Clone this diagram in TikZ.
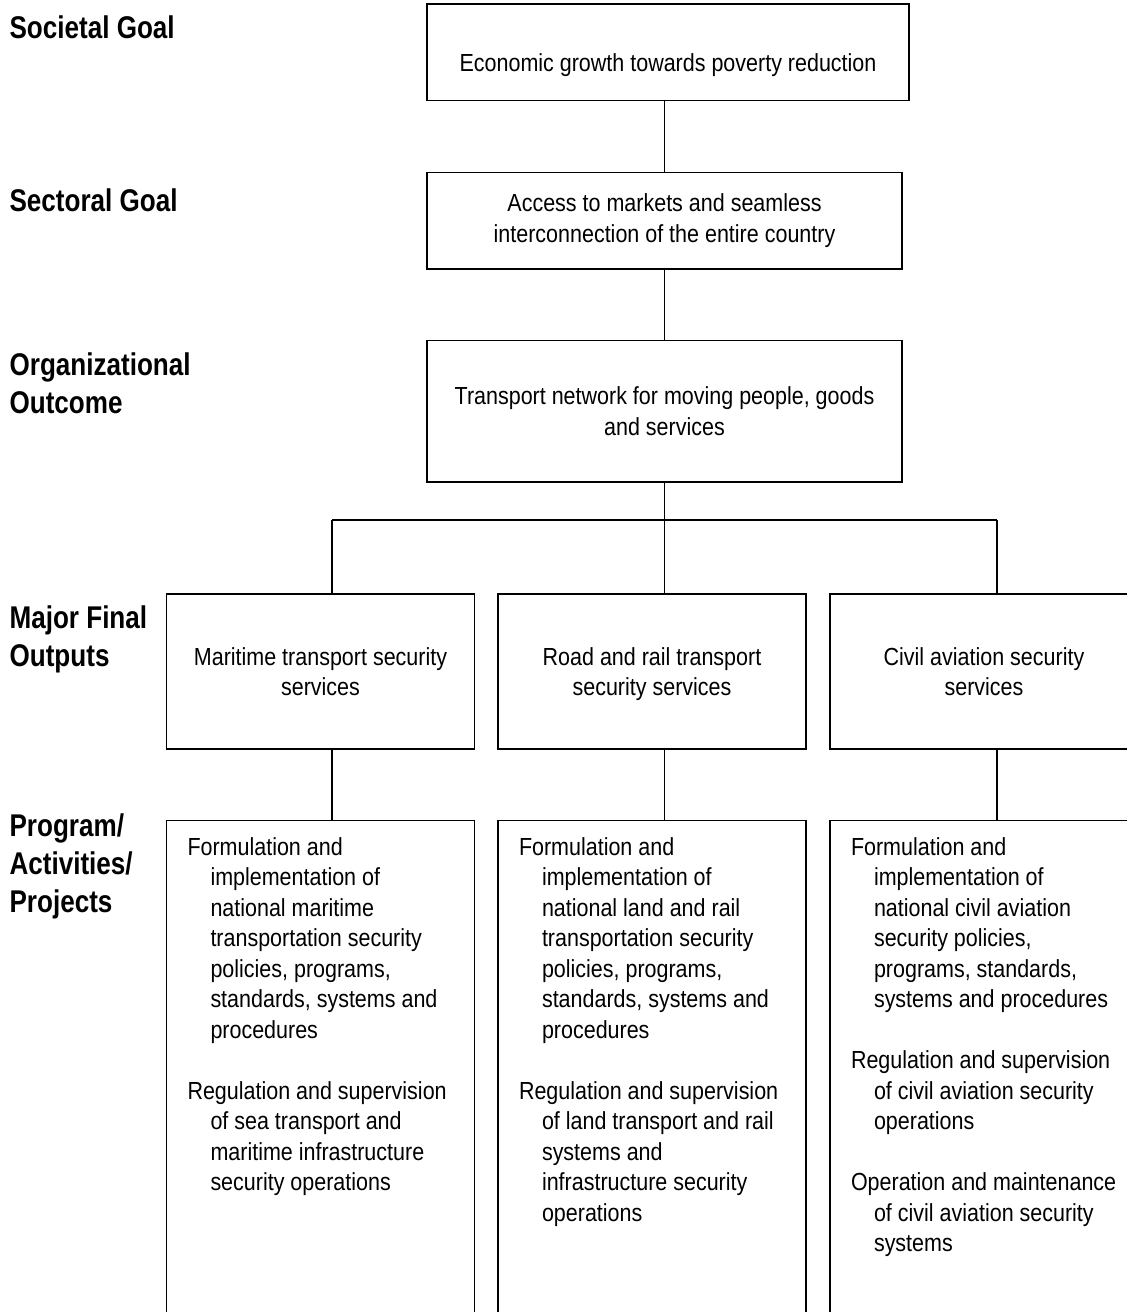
\documentclass[tikz,border=0pt]{standalone}
\usepackage{fontspec}
\setmainfont{Liberation Sans}[FakeStretch=0.87]
\newfontfamily\lblfont{Liberation Sans}[FakeStretch=0.83]
\usetikzlibrary{positioning,calc}
\newcommand{\ind}{\hspace*{23pt}}

\begin{document}
\begin{tikzpicture}[x=1pt, y=-1pt, line width=1.2pt]
    % Estilos
    \tikzstyle{goalbox}=[rectangle, draw, inner sep=0pt, align=center, font=\fontsize{24.7}{30.5}\selectfont]
    \tikzstyle{tierlabel}=[anchor=base west, inner sep=0pt, align=left, font=\lblfont\bfseries\fontsize{31.4}{38}\selectfont]
    \tikzstyle{actlist}=[anchor=north west, inner sep=0pt, align=left, font=\fontsize{24.7}{30.5}\selectfont]

    \useasboundingbox (0,0) rectangle (1127,1312);

    % Niveis
    \node[tierlabel] (lblsoc) at (9,38) {Societal Goal};
    \node[tierlabel] (lblsec) at (9,211) {Sectoral Goal};
    \node[tierlabel] (lblorg) at (9,413) {Organizational\\Outcome};
    \node[tierlabel] (lblout) at (9,666) {Major Final\\Outputs};
    \node[tierlabel] (lblprog) at (9,912) {Program/\\Activities/\\Projects};

    % Caixas
    \node[goalbox, minimum width=482pt, minimum height=96.7pt, text height=43pt, text depth=5pt] (soc) at (668,52.3) {Economic growth towards poverty reduction};
    \node[goalbox, minimum width=475pt, minimum height=96.3pt] (sec) at (664.5,220.8) {Access to markets and seamless\\interconnection of the entire country};
    \node[goalbox, minimum width=475pt, minimum height=141.3pt] (org) at (664.5,411.3) {Transport network for moving people, goods\\and services};

    \node[goalbox, minimum width=308pt, minimum height=155pt] (outsea) at (320.5,671.5) {Maritime transport security\\services};
    \node[goalbox, minimum width=308pt, minimum height=155pt, text depth=0pt] (outland) at (652,671.5) {Road and rail transport\\security services};
    \node[goalbox, minimum width=308pt, minimum height=155pt] (outair) at (984,671.5) {Civil aviation security\\services};

    \node[draw, minimum width=308pt, minimum height=520pt, anchor=north] (progsea) at (320.5,819.5) {};
    \node[draw, minimum width=308pt, minimum height=520pt, anchor=north] (progland) at (652,819.5) {};
    \node[draw, minimum width=308pt, minimum height=520pt, anchor=north] (progair) at (984,819.5) {};

    \node[actlist] (txtsea) at ($(progsea.north west)+(21,17)$) {Formulation and\\
        \ind implementation of\\
        \ind national maritime\\
        \ind transportation security\\
        \ind policies, programs,\\
        \ind standards, systems and\\
        \ind procedures\\[30.5pt]
        Regulation and supervision\\
        \ind of sea transport and\\
        \ind maritime infrastructure\\
        \ind security operations};
    \node[actlist] (txtland) at ($(progland.north west)+(21,17)$) {Formulation and\\
        \ind implementation of\\
        \ind national land and rail\\
        \ind transportation security\\
        \ind policies, programs,\\
        \ind standards, systems and\\
        \ind procedures\\[30.5pt]
        Regulation and supervision\\
        \ind of land transport and rail\\
        \ind systems and\\
        \ind infrastructure security\\
        \ind operations};
    \node[actlist] (txtair) at ($(progair.north west)+(21,17)$) {Formulation and\\
        \ind implementation of\\
        \ind national civil aviation\\
        \ind security policies,\\
        \ind programs, standards,\\
        \ind systems and procedures\\[30.5pt]
        Regulation and supervision\\
        \ind of civil aviation security\\
        \ind operations\\[30.5pt]
        Operation and maintenance\\
        \ind of civil aviation security\\
        \ind systems};

    % Linhas
    \coordinate (busL) at (332,520);
    \coordinate (busR) at (997,520);
    \draw (soc.south -| sec.north) -- (sec.north);
    \draw (sec.south) -- (org.north);
    \draw (org.south) -- (org.south |- busL);
    \draw (busL) -- (busR);
    \draw (busL) -- (busL |- outsea.north);
    \draw (org.south |- busL) -- (org.south |- outland.north);
    \draw (busR) -- (busR |- outair.north);
    \draw (busL |- outsea.south) -- (busL |- progsea.north);
    \draw (org.south |- outland.south) -- (org.south |- progland.north);
    \draw (busR |- outair.south) -- (busR |- progair.north);
\end{tikzpicture}
\end{document}
